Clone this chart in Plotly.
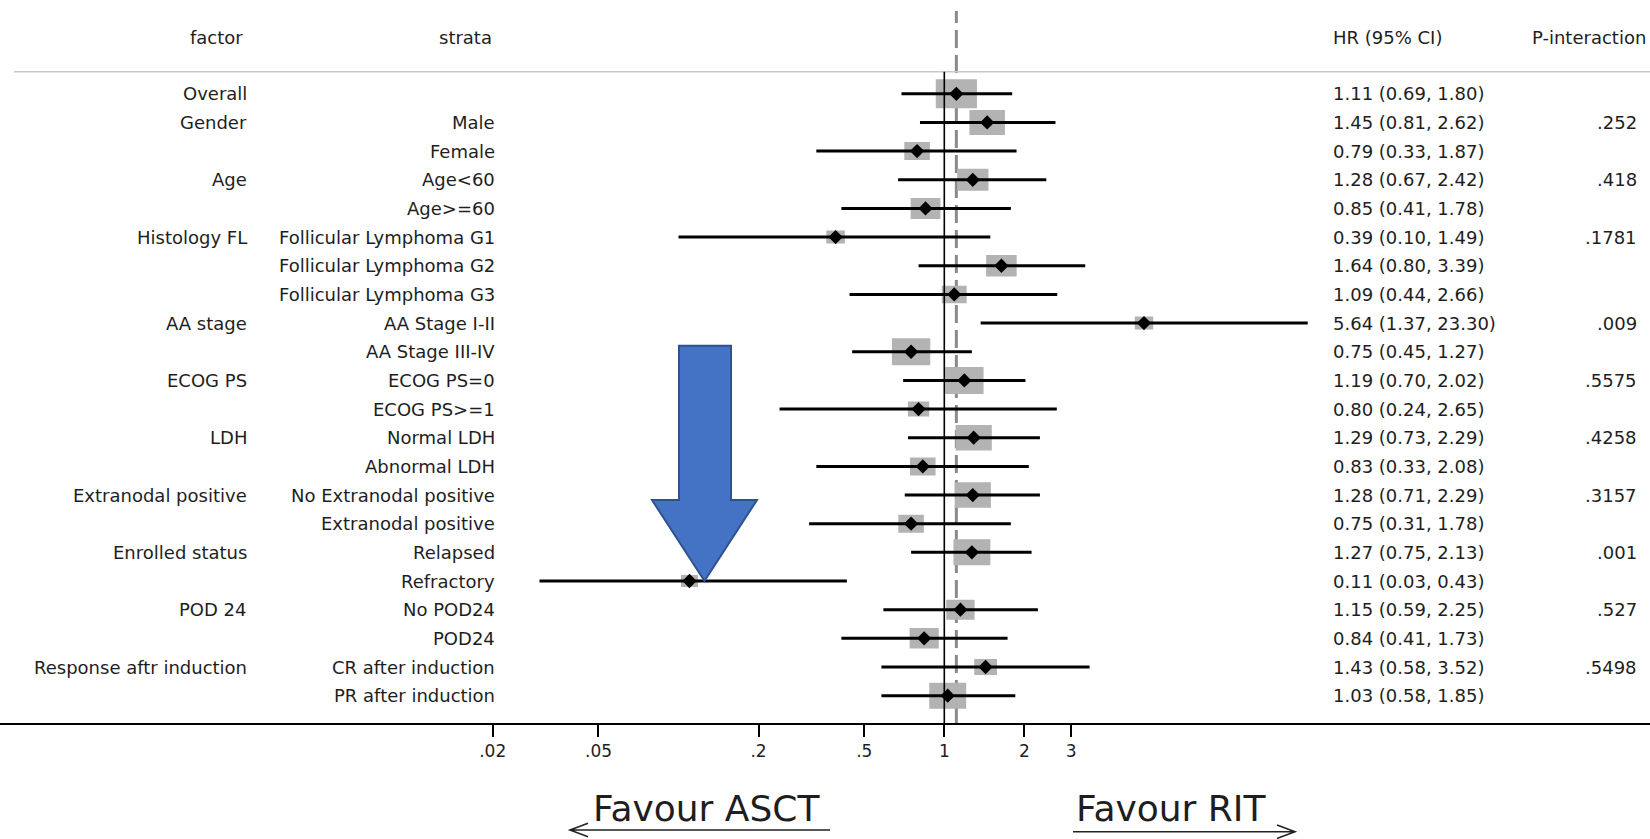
import plotly.graph_objects as go

# ---------------- data ----------------
factors = ["Overall", "Gender", "", "Age", "", "Histology FL", "", "", "AA stage", "",
           "ECOG PS", "", "LDH", "", "Extranodal positive", "", "Enrolled status", "",
           "POD 24", "", "Response aftr induction", ""]
strata = ["", "Male", "Female", "Age<60", "Age>=60", "Follicular Lymphoma G1",
          "Follicular Lymphoma G2", "Follicular Lymphoma G3", "AA Stage I-II", "AA Stage III-IV",
          "ECOG PS=0", "ECOG PS>=1", "Normal LDH", "Abnormal LDH", "No Extranodal positive",
          "Extranodal positive", "Relapsed", "Refractory", "No POD24", "POD24",
          "CR after induction", "PR after induction"]
hr = [1.11, 1.45, 0.79, 1.28, 0.85, 0.39, 1.64, 1.09, 5.64, 0.75, 1.19, 0.80, 1.29, 0.83,
      1.28, 0.75, 1.27, 0.11, 1.15, 0.84, 1.43, 1.03]
lo = [0.69, 0.81, 0.33, 0.67, 0.41, 0.10, 0.80, 0.44, 1.37, 0.45, 0.70, 0.24, 0.73, 0.33,
      0.71, 0.31, 0.75, 0.03, 0.59, 0.41, 0.58, 0.58]
hi = [1.80, 2.62, 1.87, 2.42, 1.78, 1.49, 3.39, 2.66, 23.30, 1.27, 2.02, 2.65, 2.29, 2.08,
      2.29, 1.78, 2.13, 0.43, 2.25, 1.73, 3.52, 1.85]
p_inter = ["", ".252", "", ".418", "", ".1781", "", "", ".009", "", ".5575", "", ".4258", "",
           ".3157", "", ".001", "", ".527", "", ".5498", ""]
# relative study weight (drawn as the grey box size)
weight = [29, 25, 18, 22, 21, 13, 21.5, 17.5, 13, 27, 27, 15, 25.5, 18, 25.5, 18, 26, 12,
          20, 20.5, 16, 26]
tick_vals = [0.02, 0.05, 0.2, 0.5, 1, 2, 3]
tick_text = [".02", ".05", ".2", ".5", "1", "2", "3"]

# ---------------- layout constants ----------------
W, H = 1650, 839
PLOT_H = 723            # bottom of plot area (x axis line)
ROW0_PX, ROW_STEP = 93.8, 28.66
X1_PX, PX_PER_DEC = 944.3, 265.8
FONT = "DejaVu Sans"
TXT = "#1e1e1e"
FS = 18

n = len(hr)
rows = list(range(n))
y_top = -ROW0_PX / ROW_STEP
y_bot = y_top + PLOT_H / ROW_STEP


def py(px):  # pixel from top -> paper y
    return (PLOT_H - px) / PLOT_H


def pxx(px):
    return px / W


fig = go.Figure()

# weight boxes (rectangles sized in pixels, converted through the axis scale)
bx, by = [], []
for i in rows:
    h = weight[i]
    w = h * 1.42
    f = 10 ** ((w / 2) / PX_PER_DEC)
    dy = (h / 2) / ROW_STEP
    xl, xr = hr[i] / f, hr[i] * f
    bx += [xl, xr, xr, xl, xl, None]
    by += [i - dy, i - dy, i + dy, i + dy, i - dy, None]
fig.add_trace(go.Scatter(x=bx, y=by, mode="lines", fill="toself", fillcolor="#b3b3b3",
                         line=dict(width=0, color="#b3b3b3"), hoverinfo="skip",
                         showlegend=False))

# CI lines
cx, cy = [], []
for i in rows:
    cx += [lo[i], hi[i], None]
    cy += [i, i, None]
fig.add_trace(go.Scatter(x=cx, y=cy, mode="lines", line=dict(color="black", width=3),
                         hoverinfo="skip", showlegend=False))
fig.add_trace(go.Scatter(x=hr, y=rows, mode="markers",
                         marker=dict(symbol="diamond", size=11, color="black"),
                         showlegend=False))

shapes = []
# dashed overall line
shapes.append(dict(type="line", xref="x", yref="paper", x0=hr[0], x1=hr[0],
                   y0=0, y1=py(11), layer="below",
                   line=dict(color="#8a8a8a", width=3, dash="18px,7px")))
# null line
shapes.append(dict(type="line", xref="x", yref="paper", x0=1, x1=1, y0=0, y1=py(71.7),
                   layer="above", line=dict(color="black", width=1.6)))
# header rule
shapes.append(dict(type="line", xref="paper", yref="paper", x0=pxx(14), x1=1,
                   y0=py(71.7), y1=py(71.7), layer="below",
                   line=dict(color="#c8c8c8", width=1.5)))

# blue block arrow
pts = [(679, 345.7), (731, 345.7), (731, 500), (757, 500), (704.5, 581), (652, 500), (679, 500)]
path = "M " + " L ".join(f"{pxx(x):.5f},{py(y):.5f}" for x, y in pts) + " Z"
shapes.append(dict(type="path", xref="paper", yref="paper", path=path,
                   fillcolor="#4472C4", line=dict(color="#2F528F", width=2)))


# favour arrows
def arrow_path(x_from, x_to, y, left):
    tip = x_to if not left else x_from
    d = 18 if left else -18
    return (f"M {pxx(x_from):.5f},{py(y):.5f} L {pxx(x_to):.5f},{py(y):.5f} "
            f"M {pxx(tip + d):.5f},{py(y - 6.7):.5f} L {pxx(tip):.5f},{py(y):.5f} "
            f"L {pxx(tip + d):.5f},{py(y + 6.7):.5f}")


shapes.append(dict(type="path", xref="paper", yref="paper", path=arrow_path(570, 830, 830, True),
                   line=dict(color="#222", width=1.6)))
shapes.append(dict(type="path", xref="paper", yref="paper",
                   path=arrow_path(1073, 1295, 831.7, False),
                   line=dict(color="#222", width=1.6)))

annotations = []


def txt(x, y, s, anchor, size=FS, yref="y"):
    annotations.append(dict(xref="paper", yref=yref, x=x, y=y, text=s, showarrow=False,
                            xanchor=anchor, yanchor="middle",
                            font=dict(family=FONT, size=size, color=TXT)))


# headers
hy = py(37)
txt(pxx(245), hy, "factor", "right", yref="paper")
txt(pxx(494), hy, "strata", "right", yref="paper")
txt(pxx(1331), hy, "HR (95% CI)", "left", yref="paper")
txt(pxx(1648), hy, "P-interaction", "right", yref="paper")

for i in rows:
    if factors[i]:
        txt(pxx(249), i, factors[i], "right")
    if strata[i]:
        txt(pxx(497), i, strata[i], "right")
    txt(pxx(1331), i, f"{hr[i]:.2f} ({lo[i]:.2f}, {hi[i]:.2f})", "left")
    if p_inter[i]:
        txt(pxx(1639), i, p_inter[i], "right")

txt(pxx(591), py(808), "Favour ASCT", "left", size=36, yref="paper")
txt(pxx(1074), py(808), "Favour RIT", "left", size=36, yref="paper")

x_left = -X1_PX / PX_PER_DEC
x_right = (W - X1_PX) / PX_PER_DEC

fig.update_layout(
    width=W, height=H,
    margin=dict(l=0, r=0, t=0, b=H - PLOT_H, pad=0),
    paper_bgcolor="white", plot_bgcolor="white",
    shapes=shapes, annotations=annotations, showlegend=False,
    xaxis=dict(type="log", range=[x_left, x_right], showgrid=False, zeroline=False,
               showline=True, linecolor="black", linewidth=2, ticks="outside",
               ticklen=12, tickwidth=1.5, tickcolor="black",
               tickvals=tick_vals, ticktext=tick_text,
               tickfont=dict(family=FONT, size=17, color=TXT), fixedrange=True),
    yaxis=dict(range=[y_bot, y_top], visible=False, fixedrange=True),
)

fig.write_html("out.html")
